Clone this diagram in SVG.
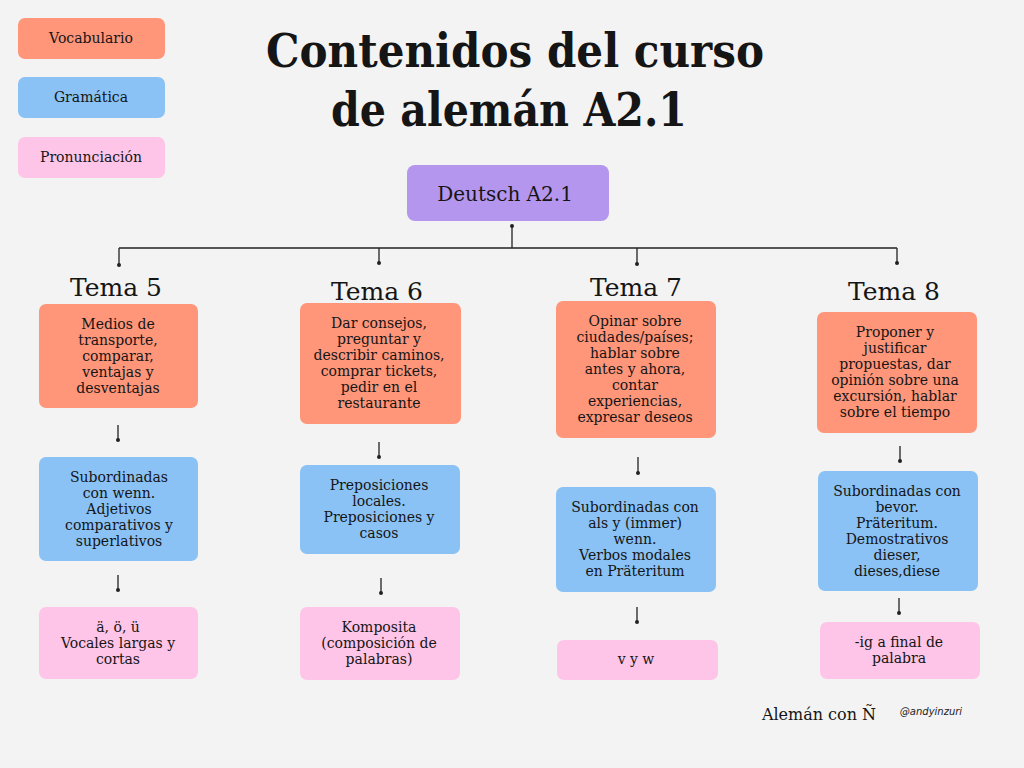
<svg xmlns="http://www.w3.org/2000/svg" width="1024" height="768" viewBox="0 0 1024 768">
<defs>
<style>
.t{font-family:"DejaVu Serif","Liberation Serif",serif;fill:#151515;text-anchor:middle}
.b{font-size:14px}
.voc{fill:#FF967A}
.gra{fill:#8AC2F5}
.pro{fill:#FFC5E8}
.de{fill:#B596EE}
.c{stroke:#222;stroke-width:1.3;fill:none}
.d{fill:#222}
.h{font-family:"DejaVu Sans","Liberation Sans",sans-serif;font-size:10px;font-style:italic;text-anchor:middle;fill:#222}
</style>
</defs>
<rect width="1024" height="768" fill="#F3F3F3"/>

<g id="legend">
<g id="leg-voc"><rect class="voc" x="18" y="18" width="147" height="41" rx="7"/><text class="t" x="91" y="43" font-size="14">Vocabulario</text></g>
<g id="leg-gra"><rect class="gra" x="18" y="77" width="147" height="41" rx="7"/><text class="t" x="91" y="102" font-size="14">Gramática</text></g>
<g id="leg-pro"><rect class="pro" x="18" y="137" width="147" height="41" rx="7"/><text class="t" x="91" y="162" font-size="14">Pronunciación</text></g>
</g>

<g id="title">
<text class="t" x="515" y="67" font-size="46" font-weight="bold" textLength="498" lengthAdjust="spacingAndGlyphs">Contenidos del curso</text>
<text class="t" x="509" y="126" font-size="46" font-weight="bold" textLength="356" lengthAdjust="spacingAndGlyphs">de alemán A2.1</text>
</g>

<g id="connectors">
<path class="c" d="M512 226V248M119 248H897M119 248V265M379 248V263M637 248V264M897 248V263"/>
<circle class="d" cx="512" cy="226" r="2"/>
<circle class="d" cx="119" cy="265" r="2"/>
<circle class="d" cx="379" cy="263" r="2"/>
<circle class="d" cx="637" cy="264" r="2"/>
<circle class="d" cx="897" cy="263" r="2"/>
<path class="c" d="M118 425V440M118 575V590M379 442V457M381 578V593M638 457V473M637 607V622M900 446V461M899 598V613"/>
<circle class="d" cx="118" cy="440" r="2"/>
<circle class="d" cx="118" cy="590" r="2"/>
<circle class="d" cx="379" cy="457" r="2"/>
<circle class="d" cx="381" cy="593" r="2"/>
<circle class="d" cx="638" cy="473" r="2"/>
<circle class="d" cx="637" cy="622" r="2"/>
<circle class="d" cx="900" cy="461" r="2"/>
<circle class="d" cx="899" cy="613" r="2"/>
</g>

<g id="root"><rect class="de" x="407" y="165" width="202" height="56" rx="8"/><text class="t" x="505" y="201" font-size="20">Deutsch A2.1</text></g>

<g id="tema5-label"><text class="t" x="116" y="296" font-size="25">Tema 5</text></g>
<g id="tema6-label"><text class="t" x="377" y="300" font-size="25">Tema 6</text></g>
<g id="tema7-label"><text class="t" x="636" y="296" font-size="25">Tema 7</text></g>
<g id="tema8-label"><text class="t" x="894" y="300" font-size="25">Tema 8</text></g>

<g id="t5-voc"><rect class="voc" x="39" y="304" width="159" height="104" rx="7"/>
<text class="t b"><tspan x="118" y="328.5">Medios de</tspan><tspan x="118" y="344.5">transporte,</tspan><tspan x="118" y="360.5">comparar,</tspan><tspan x="118" y="376.5">ventajas y</tspan><tspan x="118" y="392.5">desventajas</tspan></text></g>
<g id="t5-gra"><rect class="gra" x="39" y="457" width="159" height="104" rx="7"/>
<text class="t b"><tspan x="119" y="481.5">Subordinadas</tspan><tspan x="119" y="497.5">con wenn.</tspan><tspan x="119" y="513.5">Adjetivos</tspan><tspan x="119" y="529.5">comparativos y</tspan><tspan x="119" y="545.5">superlativos</tspan></text></g>
<g id="t5-pro"><rect class="pro" x="39" y="607" width="159" height="72" rx="7"/>
<text class="t b"><tspan x="118" y="631.5">ä, ö, ü</tspan><tspan x="118" y="647.5">Vocales largas y</tspan><tspan x="118" y="663.5">cortas</tspan></text></g>

<g id="t6-voc"><rect class="voc" x="300" y="303" width="161" height="121" rx="7"/>
<text class="t b"><tspan x="379" y="328">Dar consejos,</tspan><tspan x="379" y="344">preguntar y</tspan><tspan x="379" y="360">describir caminos,</tspan><tspan x="379" y="376">comprar tickets,</tspan><tspan x="379" y="392">pedir en el</tspan><tspan x="379" y="408">restaurante</tspan></text></g>
<g id="t6-gra"><rect class="gra" x="300" y="465" width="160" height="89" rx="7"/>
<text class="t b"><tspan x="379" y="490">Preposiciones</tspan><tspan x="379" y="506">locales.</tspan><tspan x="379" y="522">Preposiciones y</tspan><tspan x="379" y="538">casos</tspan></text></g>
<g id="t6-pro"><rect class="pro" x="300" y="607" width="160" height="73" rx="7"/>
<text class="t b"><tspan x="379" y="631.5">Komposita</tspan><tspan x="379" y="647.5">(composición de</tspan><tspan x="379" y="663.5">palabras)</tspan></text></g>

<g id="t7-voc"><rect class="voc" x="556" y="301" width="160" height="137" rx="7"/>
<text class="t b"><tspan x="635" y="326">Opinar sobre</tspan><tspan x="635" y="342">ciudades/países;</tspan><tspan x="635" y="358">hablar sobre</tspan><tspan x="635" y="374">antes y ahora,</tspan><tspan x="635" y="390">contar</tspan><tspan x="635" y="406">experiencias,</tspan><tspan x="635" y="422">expresar deseos</tspan></text></g>
<g id="t7-gra"><rect class="gra" x="556" y="487" width="160" height="105" rx="7"/>
<text class="t b"><tspan x="635" y="511.5">Subordinadas con</tspan><tspan x="635" y="527.5">als y (immer)</tspan><tspan x="635" y="543.5">wenn.</tspan><tspan x="635" y="559.5">Verbos modales</tspan><tspan x="635" y="575.5">en Präteritum</tspan></text></g>
<g id="t7-pro"><rect class="pro" x="557" y="640" width="161" height="40" rx="7"/>
<text class="t b"><tspan x="636" y="664">v y w</tspan></text></g>

<g id="t8-voc"><rect class="voc" x="817" y="312" width="160" height="121" rx="7"/>
<text class="t b"><tspan x="895" y="336.5">Proponer y</tspan><tspan x="895" y="352.5">justificar</tspan><tspan x="895" y="368.5">propuestas, dar</tspan><tspan x="895" y="384.5">opinión sobre una</tspan><tspan x="895" y="400.5">excursión, hablar</tspan><tspan x="895" y="416.5">sobre el tiempo</tspan></text></g>
<g id="t8-gra"><rect class="gra" x="818" y="471" width="160" height="120" rx="7"/>
<text class="t b"><tspan x="897" y="495.5">Subordinadas con</tspan><tspan x="897" y="511.5">bevor.</tspan><tspan x="897" y="527.5">Präteritum.</tspan><tspan x="897" y="543.5">Demostrativos</tspan><tspan x="897" y="559.5">dieser,</tspan><tspan x="897" y="575.5">dieses,diese</tspan></text></g>
<g id="t8-pro"><rect class="pro" x="820" y="622" width="160" height="57" rx="7"/>
<text class="t b"><tspan x="899" y="646.5">-ig a final de</tspan><tspan x="899" y="662.5">palabra</tspan></text></g>

<g id="footer">
<text class="t" x="819" y="720" font-size="16">Alemán con Ñ</text>
<text class="h" x="931" y="715">@andyinzuri</text>
</g>
</svg>
